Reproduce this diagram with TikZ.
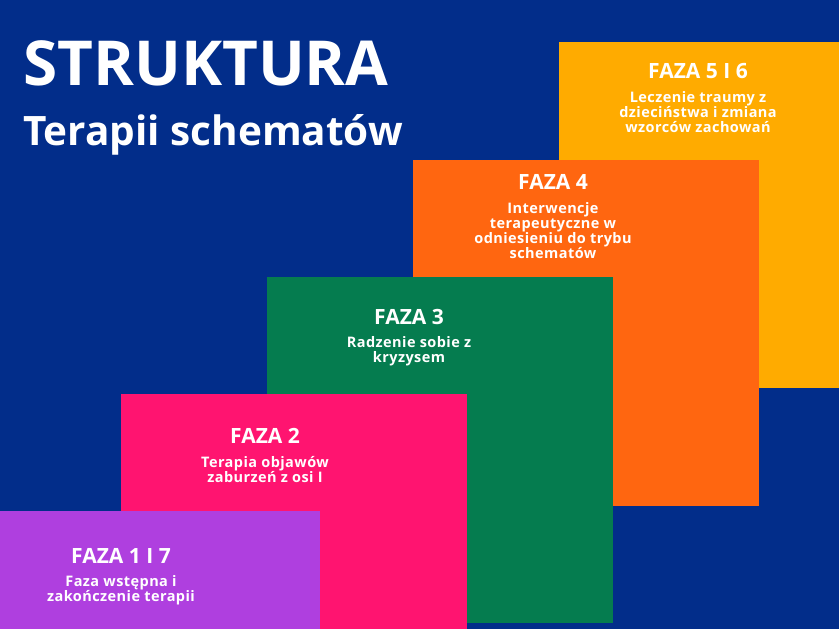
\documentclass[tikz,border=0pt]{standalone}
\usepackage{fontspec}
\setmainfont{Open Sans}
\newfontfamily\opisfont[LetterSpace=3]{Open Sans}
\usepackage{xcolor}
\definecolor{tlo}{HTML}{022D8A}
\definecolor{zolty}{HTML}{FFAB00}
\definecolor{pomarancz}{HTML}{FF6610}
\definecolor{zielony}{HTML}{057C4F}
\definecolor{rozowy}{HTML}{FF1470}
\definecolor{fiolet}{HTML}{AF3FDF}
\usetikzlibrary{positioning}

\begin{document}
\begin{tikzpicture}[x=1pt,y=-1pt,
    faza/.style={rectangle, anchor=north west, inner sep=0pt, minimum width=346pt, minimum height=346pt},
    tytul/.style={anchor=base, text=white, font=\bfseries\fontsize{21}{23}\selectfont},
    opis/.style={anchor=base, align=center, text=white, font=\opisfont\bfseries\fontsize{14.5}{15}\selectfont}]

            \clip (0,0) rectangle (839,629);
            \fill[tlo] (0,0) rectangle (839,629);

            % naglowek
            \node[anchor=base west, inner sep=0pt, text=white, font=\bfseries\fontsize{62}{66}\selectfont] (naglowek) at (23,85) {STRUKTURA};
            \node[anchor=base west, inner sep=0pt, text=white, font=\bfseries\fontsize{40.5}{44}\selectfont] (podtytul) at (23,145) {Terapii schematów};

            % prostokaty faz
            \node[faza, fill=zolty, minimum width=290pt] (5) at (559,42) {};
            \node[faza, fill=pomarancz] (4) at (413,160) {};
            \node[faza, fill=zielony] (3) at (267,277) {};
            \node[faza, fill=rozowy] (2) at (121,394) {};
            \node[faza, fill=fiolet, minimum width=330pt] (1) at (-10,511) {};

            % teksty (baza opisu = ostatnia linia)
            \node[tytul] (t5) at (698,78) {FAZA 5 I 6};
            \node[opis] (o5) at ([yshift=-54.5pt]t5.base) {Leczenie traumy z\\dzieciństwa i zmiana\\wzorców zachowań};

            \node[tytul] (t4) at (553,189) {FAZA 4};
            \node[opis] (o4) at ([yshift=-69.5pt]t4.base) {Interwencje\\terapeutyczne w\\odniesieniu do trybu\\schematów};

            \node[tytul] (t3) at (409,324) {FAZA 3};
            \node[opis] (o3) at ([yshift=-38.5pt]t3.base) {Radzenie sobie z\\kryzysem};

            \node[tytul] (t2) at (265,443) {FAZA 2};
            \node[opis] (o2) at ([yshift=-39.5pt]t2.base) {Terapia objawów\\zaburzeń z osi I};

            \node[tytul] (t1) at (121,563) {FAZA 1 I 7};
            \node[opis] (o1) at ([yshift=-38.5pt]t1.base) {Faza wstępna i\\zakończenie terapii};
\end{tikzpicture}
\end{document}
